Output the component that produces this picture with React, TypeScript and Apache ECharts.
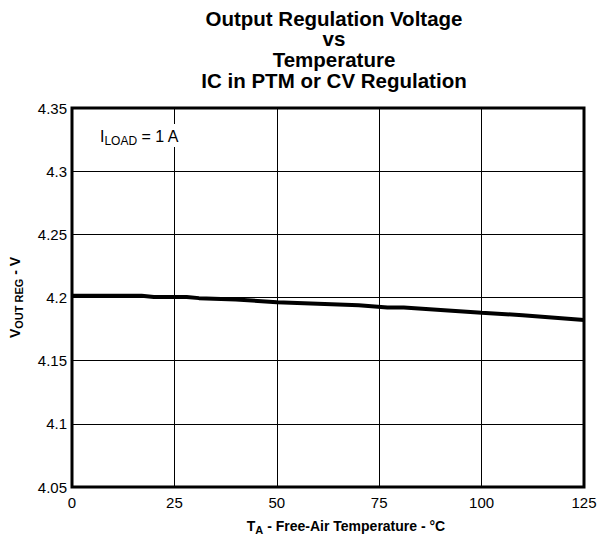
import React, { useEffect, useRef } from "react";
import * as echarts from "echarts";

const titleLines = ["Output Regulation Voltage", "vs", "Temperature", "IC in PTM or CV Regulation"];
const xTicks = [0, 25, 50, 75, 100, 125];
const yTicks = [4.05, 4.1, 4.15, 4.2, 4.25, 4.3, 4.35];
const temps = [0, 17, 20, 28, 31, 40, 50, 60, 70, 77, 81, 90, 100, 110, 125];
const vout = [4.2013, 4.2013, 4.2004, 4.2004, 4.1995, 4.1985, 4.1962, 4.195, 4.1938, 4.192, 4.192, 4.1902, 4.188, 4.186, 4.1822];

const FONT = "'Liberation Sans', Arial, sans-serif";

export default function App() {
  const ref = useRef<HTMLDivElement>(null);
  useEffect(() => {
    if (!ref.current) return;
    const chart = echarts.init(ref.current, null, { renderer: "svg" });
    const data = temps.map((t, i) => [t, vout[i]]);
    chart.setOption({
      animation: false,
      backgroundColor: "#fff",
      textStyle: { fontFamily: FONT },
      grid: {
        left: 72,
        right: 17,
        top: 108,
        bottom: 48,
        show: true,
        borderColor: "#000",
        borderWidth: 3,
        backgroundColor: "transparent",
        z: 10,
      },
      graphic: [
        {
          type: "text",
          x: 334,
          y: 7.6,
          style: {
            text: titleLines.join("\n"),
            fill: "#000",
            font: `bold 20.5px ${FONT}`,
            lineHeight: 20.8,
            align: "center",
            verticalAlign: "top",
          },
        },
        {
          type: "text",
          x: 98,
          y: 124,
          z: 20,
          style: {
            text: "{m|I}{s|LOAD}{m| = 1 A}",
            backgroundColor: "#fff",
            padding: [1, 2, 0, 2],
            rich: {
              m: { fontSize: 16, fontFamily: FONT, fill: "#000", lineHeight: 22 },
              s: { fontSize: 12, fontFamily: FONT, fill: "#000", lineHeight: 10, verticalAlign: "bottom" },
            },
          },
        },
      ],
      xAxis: {
        type: "value",
        min: 0,
        max: 125,
        interval: 25,
        axisLine: { show: false },
        axisTick: { show: false },
        splitLine: { show: true, lineStyle: { color: "#000", width: 1 } },
        axisLabel: { color: "#000", fontSize: 15, fontFamily: FONT, margin: 8 },
        name: "{b|T}{s|A}{b| - Free-Air Temperature - °C}",
        nameLocation: "middle",
        nameGap: 30,
        nameTextStyle: {
          padding: [0, 0, 0, 36],
          rich: {
            b: { fontSize: 14, fontWeight: "bold", fontFamily: FONT, color: "#000", lineHeight: 18 },
            s: { fontSize: 11, fontWeight: "bold", fontFamily: FONT, color: "#000", lineHeight: 10, verticalAlign: "bottom" },
          },
        },
      },
      yAxis: {
        type: "value",
        min: 4.05,
        max: 4.35,
        interval: 0.05,
        axisLine: { show: false },
        axisTick: { show: false },
        splitLine: { show: true, lineStyle: { color: "#000", width: 1 } },
        axisLabel: {
          color: "#000",
          fontSize: 15,
          fontFamily: FONT,
          margin: 5,
          formatter: (v: number) => {
            const m = yTicks.find((t) => Math.abs(t - v) < 1e-6);
            return m !== undefined ? String(parseFloat(m.toFixed(2))) : "";
          },
        },
        name: "{b|V}{s|OUT REG}{b| - V}",
        nameLocation: "middle",
        nameGap: 48,
        nameRotate: 90,
        nameTextStyle: {
          rich: {
            b: { fontSize: 14, fontWeight: "bold", fontFamily: FONT, color: "#000", lineHeight: 18 },
            s: { fontSize: 11, fontWeight: "bold", fontFamily: FONT, color: "#000", lineHeight: 10, verticalAlign: "bottom" },
          },
        },
      },
      series: [
        {
          type: "line",
          data,
          showSymbol: false,
          smooth: false,
          lineStyle: { color: "#000", width: 4 },
          z: 5,
        },
      ],
    });
    return () => chart.dispose();
  }, []);
  return <div ref={ref} style={{ width: 601, height: 540, position: "absolute", left: 0, top: 0 }} />;
}
